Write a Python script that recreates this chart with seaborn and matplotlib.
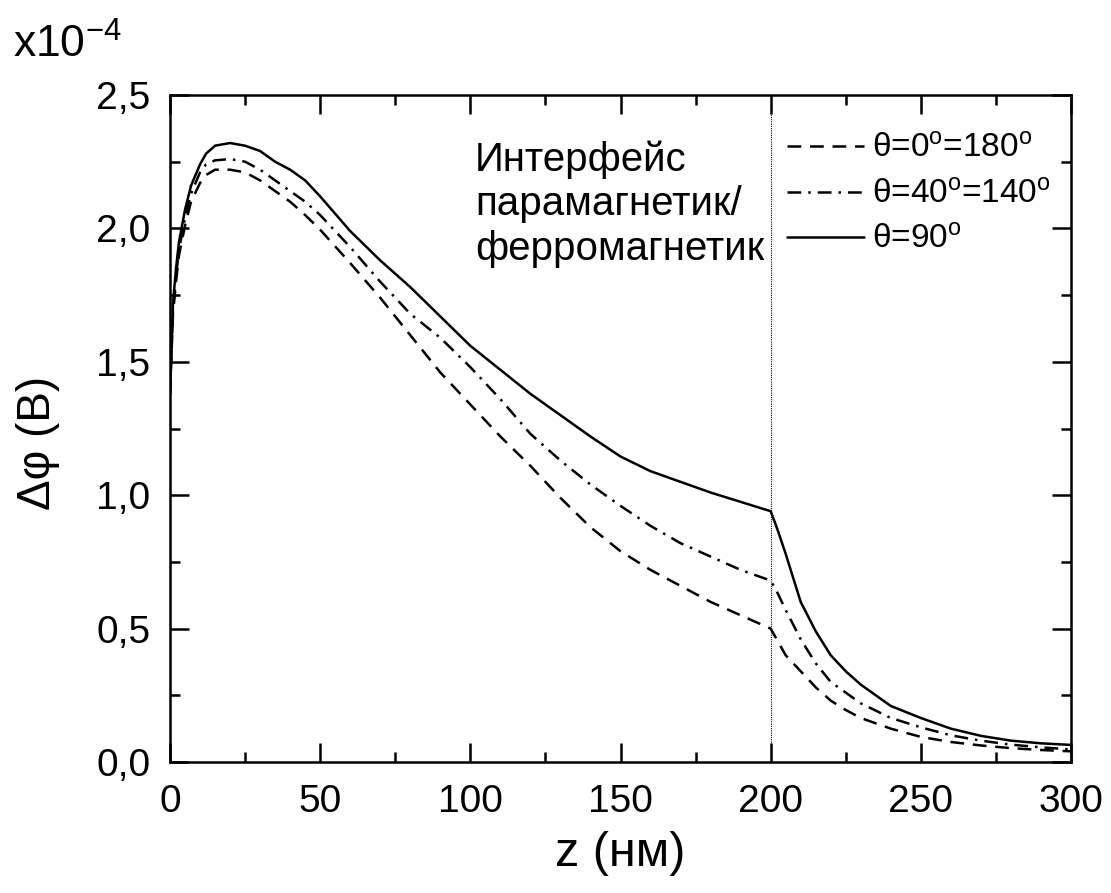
import matplotlib
matplotlib.use("Agg")
import matplotlib.pyplot as plt
import seaborn as sns
import pandas as pd
from matplotlib.ticker import MultipleLocator, FuncFormatter

# ---- data (values in units of 1e-4 V) ----
z = [0, 1, 2, 3, 5, 7, 10, 12, 15, 20, 25, 30, 35, 40, 45, 50, 60, 70, 80, 90,
     100, 110, 120, 130, 140, 150, 160, 170, 180, 190, 200, 202, 205, 210, 215,
     220, 225, 230, 240, 250, 260, 270, 280, 290, 300]

phi_0_180 = [1.38, 1.68, 1.80, 1.90, 2.01, 2.10, 2.17, 2.20, 2.22, 2.22, 2.21, 2.18,
             2.14, 2.10, 2.05, 1.995, 1.87, 1.74, 1.60, 1.46, 1.34, 1.22, 1.11, 0.99,
             0.88, 0.79, 0.72, 0.66, 0.60, 0.55, 0.50, 0.46, 0.40, 0.34, 0.28, 0.23,
             0.195, 0.165, 0.125, 0.094, 0.075, 0.062, 0.052, 0.045, 0.040]

phi_40_140 = [1.38, 1.70, 1.82, 1.92, 2.04, 2.13, 2.21, 2.24, 2.255, 2.26, 2.25, 2.22,
              2.18, 2.14, 2.10, 2.05, 1.93, 1.80, 1.68, 1.59, 1.48, 1.36, 1.23, 1.13,
              1.04, 0.96, 0.885, 0.82, 0.77, 0.72, 0.68, 0.64, 0.57, 0.46, 0.37, 0.30,
              0.26, 0.22, 0.165, 0.13, 0.10, 0.08, 0.065, 0.055, 0.047]

phi_90 = [1.38, 1.72, 1.85, 1.95, 2.07, 2.16, 2.24, 2.28, 2.31, 2.32, 2.31, 2.29,
          2.25, 2.22, 2.18, 2.12, 1.99, 1.88, 1.78, 1.67, 1.56, 1.47, 1.38, 1.30,
          1.22, 1.145, 1.09, 1.05, 1.01, 0.975, 0.94, 0.88, 0.78, 0.60, 0.49, 0.40,
          0.34, 0.29, 0.21, 0.165, 0.125, 0.098, 0.08, 0.07, 0.064]

labels = ["θ=0$^{\\rm o}$=180$^{\\rm o}$", "θ=40$^{\\rm o}$=140$^{\\rm o}$", "θ=90$^{\\rm o}$"]
x_ticks = [0, 50, 100, 150, 200, 250, 300]
y_ticks = [0.0, 0.5, 1.0, 1.5, 2.0, 2.5]
interface_z = 200

# ---- style ----
sns.set_style("ticks")
plt.rcParams["font.family"] = ["Liberation Sans", "DejaVu Sans"]
plt.rcParams["mathtext.fontset"] = "custom"
plt.rcParams["mathtext.rm"] = "Liberation Sans"
plt.rcParams["mathtext.it"] = "Liberation Sans:italic"
plt.rcParams["text.color"] = "black"
plt.rcParams["axes.labelcolor"] = "black"
plt.rcParams["xtick.color"] = "black"
plt.rcParams["ytick.color"] = "black"
plt.rcParams["axes.edgecolor"] = "black"

fig = plt.figure(figsize=(11.11, 8.93), dpi=100)
ax = fig.add_axes([170/1111, 1-762/893, (1071-170)/1111, (762-95)/893])

series = [phi_0_180, phi_40_140, phi_90]
styles = [(0, (5.5, 3.5)), (0, (5.5, 2.8, 1, 2.8)), "-"]
for vals, lab, ls in zip(series, labels, styles):
    df = pd.DataFrame({"z": z, "phi": vals})
    sns.lineplot(data=df, x="z", y="phi", ax=ax, color="black", lw=1.8,
                 linestyle=ls, label=lab, estimator=None, sort=False)

ax.axvline(interface_z, color="black", lw=0.8, ls=(0, (1, 1)))

ax.set_xlim(0, 300)
ax.set_ylim(0, 2.5)
ax.set_xticks(x_ticks)
ax.set_yticks(y_ticks)
ax.xaxis.set_minor_locator(MultipleLocator(25))
ax.yaxis.set_minor_locator(MultipleLocator(0.25))
ax.yaxis.set_major_formatter(FuncFormatter(lambda v, p: f"{v:.1f}".replace(".", ",")))
ax.tick_params(which="both", direction="in", top=True, right=True, width=1.8,
               labelsize=28)
ax.tick_params(axis="x", which="major", pad=16)
ax.tick_params(axis="y", which="major", pad=14)
ax.tick_params(which="major", length=14)
ax.tick_params(which="minor", length=7)
for s in ax.spines.values():
    s.set_linewidth(1.8)
    s.set_visible(True)

ax.set_xlabel("z (нм)", fontsize=35, labelpad=8)
ax.set_ylabel("Δφ (В)", fontsize=33)
ax.yaxis.set_label_coords(-0.122, 0.478)

ax.text(101.5, 2.33, "Интерфейс\nпарамагнетик/\nферромагнетик", fontsize=29,
        ha="left", va="top", linespacing=1.22)

fig.text(0.012, 0.935, "x10$^{-4}$", fontsize=32)

leg = ax.legend(loc="upper right", frameon=False, fontsize=24, handlelength=2.3,
                handletextpad=0.25, labelspacing=0.44, borderaxespad=0.0,
                bbox_to_anchor=(0.993, 0.962))

fig.savefig("out.png", dpi=100)
